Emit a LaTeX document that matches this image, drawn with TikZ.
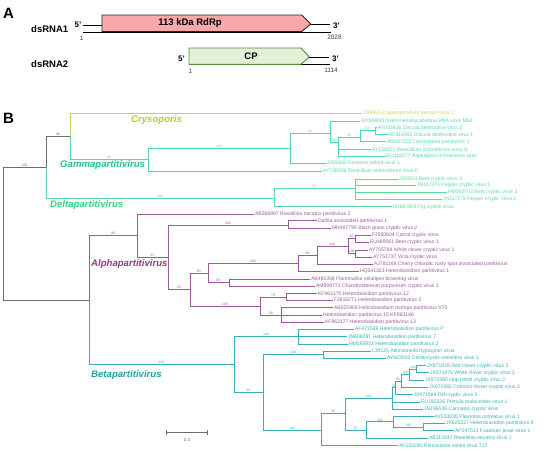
\documentclass[tikz,border=0pt]{standalone}
\usepackage{fontspec}
\setmainfont{Liberation Sans}
\definecolor{gry}{HTML}{6B6B6B}
\definecolor{crys}{HTML}{C3D84A}
\definecolor{crysT}{HTML}{B2CC33}
\definecolor{gam}{HTML}{4ED8AE}
\definecolor{gamT}{HTML}{22C493}
\definecolor{del}{HTML}{58DE9A}
\definecolor{delT}{HTML}{2DD67C}
\definecolor{alp}{HTML}{9A5A9A}
\definecolor{alpT}{HTML}{8A3C8A}
\definecolor{bet}{HTML}{36B0B0}
\definecolor{betT}{HTML}{1F9FA3}
\definecolor{rdrp}{HTML}{F9A8A8}
\definecolor{cpf}{HTML}{E3F1D8}
\definecolor{cpd}{HTML}{5A8A3A}
\tikzset{
  tip/.style={anchor=west, inner sep=0.8pt, font=\fontsize{5.1}{6}\selectfont},
  bs/.style={above, inner sep=0.4pt, font=\fontsize{3.4}{4}\selectfont},
  clade/.style={anchor=west, inner sep=0pt, font=\fontsize{9.6}{11}\selectfont\bfseries\itshape},
  br/.style={line width=0.7pt},
  hd/.style={inner sep=0pt, font=\fontsize{9.5}{11}\selectfont\bfseries},
  pr/.style={inner sep=0pt, font=\fontsize{8}{9}\selectfont\bfseries},
  num/.style={inner sep=0pt, font=\fontsize{6.5}{7}\selectfont, text=black!75},
}
\newcommand{\tnode}[6]{\coordinate (#3) at (#4,#5); \draw[br,#1] (#2) |- node[bs,pos=0.75]{#6} (#3);}
\newcommand{\tleaf}[6]{\node[tip,text=#1] (#3) at (#4,#5) {#6}; \draw[br,#1] (#2) |- (#3.west);}
\begin{document}
\begin{tikzpicture}[x=1pt,y=-1pt]
\useasboundingbox (0,0) rectangle (550,451);
% ---------------- Part A
\node[anchor=base west, inner sep=0pt, font=\fontsize{15}{15}\selectfont\bfseries] (lblA) at (3,18) {A};
\node[hd, anchor=west] (r1) at (31,29.5) {dsRNA1};
\node[hd, anchor=west] (r2) at (31,64) {dsRNA2};
% dsRNA1
\node[pr] (p5a) at (78,25) {5'};
\coordinate (l1a) at (82.5,25);
\coordinate (l1b) at (102,25);
\draw[line width=0.8pt] (l1a) -- (l1b);
\coordinate (lo1a) at (82.5,32);
\coordinate (lo1b) at (331,32);
\draw[line width=0.8pt] (lo1a) -- (lo1b);
\draw[line width=0.9pt, fill=rdrp, draw=black!85] (102,15) -- (301.7,15) -- (310.7,24) -- (301.7,31.5) -- (102,31.5) -- cycle;
\node[hd] (rdrpT) at (190,22.8) {113 kDa RdRp};
\coordinate (t1a) at (310.7,24);
\coordinate (t1b) at (330,24);
\draw[line width=0.8pt] (t1a) -- (t1b);
\node[pr] (p3a) at (336.5,25.3) {3'};
\node[num] (n1a) at (81.5,38.5) {1};
\node[num] (n1b) at (334.5,36.8) {2028};
% dsRNA2
\node[pr] (p5b) at (181.5,59) {5'};
\coordinate (lo2a) at (189,64.5);
\coordinate (lo2b) at (330,64.5);
\draw[line width=0.8pt] (lo2a) -- (lo2b);
\draw[line width=0.9pt, fill=cpf, draw=cpd] (189,48) -- (301,48) -- (309.3,57) -- (301,64.3) -- (189,64.3) -- cycle;
\node[hd] (cpT) at (251,56) {CP};
\coordinate (t2a) at (309.3,57.5);
\coordinate (t2b) at (329,57.5);
\draw[line width=0.8pt] (t2a) -- (t2b);
\node[pr] (p3b) at (335.5,59) {3'};
\node[num] (n2a) at (190.5,71) {1};
\node[num] (n2b) at (331,70) {1114};
% ---------------- Part B
\node[anchor=base west, inner sep=0pt, font=\fontsize{15}{15}\selectfont\bfseries] (lblB) at (3,123) {B};
\coordinate (R) at (3,233.5);
\tnode{gry}{R}{N1}{46}{167}{100}
\tnode{gry}{N1}{N2}{70}{136}{96}
\tleaf{crys}{N2}{tCry}{362}{113}{U95995 Cryptosporidium parvum virus 1}
\tnode{gam}{N2}{G1}{148}{159}{99}
\tnode{gam}{G1}{G2}{290}{148}{100}
\tleaf{gam}{G1}{tAYa}{322}{171}{AY738336 Penicillium stoloniferum virus F}
\tnode{gam}{G2}{G3}{330}{133}{99}
\tleaf{gam}{G2}{tDa}{327}{163}{D55668 Fusarium solani virus 1}
\tleaf{gam}{G3}{tAYb}{360}{121}{AY089993 Gremmeniella abietina RNA virus MS1}
\tnode{gam}{G3}{G4}{338}{142}{92}
\tnode{gam}{G4}{G5}{360}{137}{99}
\tleaf{gam}{G4}{tAYc}{371}{149.3}{AY156521 Penicillium stoloniferum virus S}
\tleaf{gam}{G4}{tEUa}{386}{156}{EU118277 Aspergillus ochraceous virus}
\tnode{gam}{G5}{G6}{375}{130}{100}
\tleaf{gam}{G5}{tAMa}{386}{141.7}{AM087202 Ophiostoma partitivirus 1}
\tleaf{gam}{G6}{tAYd}{377}{127.7}{AY033436 Discula destructiva virus 2}
\tleaf{gam}{G6}{tAFa}{388}{134.3}{AF316992 Discula destructiva virus 1}
% Delta
\tnode{del}{N1}{D1}{274}{198}{100}
\tnode{del}{D1}{D2}{355}{188}{97}
\tleaf{del}{D1}{tFR}{392}{206.7}{FR687854 Fig cryptic virus}
\tleaf{del}{D2}{tS63}{399}{179}{S63913 Beet cryptic virus 3}
\tleaf{del}{D2}{tJNa}{416}{185.3}{JN117276 Pepper cryptic virus 1}
\tleaf{del}{D2}{tHMa}{447}{192}{HM560703 Beet cryptic virus 2}
\tleaf{del}{D2}{tJNb}{442}{199}{JN117278 Pepper cryptic virus 2}
% Alpha
\tnode{gry}{R}{A0}{89}{300}{}
\tnode{alp}{A0}{A1}{137}{235}{98}
\tleaf{alp}{A1}{tABa}{254}{214.3}{AB569997 Rosellinia necatrix partitivirus 2}
\tnode{alp}{A1}{A2}{168}{257}{97}
\tnode{alp}{A2}{A3}{288}{225}{100}
\tleaf{alp}{A3}{tDah}{317}{220.7}{Dahlia associated partitivirus 1}
\tleaf{alp}{A3}{tMN}{331}{228.3}{MN497795 Black grass cryptic virus 2}
\tnode{alp}{A2}{A4}{190}{289.5}{83}
\tnode{alp}{A4}{A5}{208}{273}{85}
\tnode{alp}{A5}{A7}{298}{263.3}{100}
\tnode{alp}{A7}{A9}{317}{255}{98}
\tleaf{alp}{A7}{tHQ}{359}{271.3}{HQ541323 Heterobasidion partitivirus 1}
\tnode{alp}{A9}{A10}{348}{246}{100}
\tleaf{alp}{A9}{tAJ}{373}{264.3}{AJ781168 Cherry chlorotic rusty spot associated partitivirus}
\tnode{alp}{A10}{A11}{355}{238.7}{90}
\tnode{alp}{A10}{A12}{355}{253.7}{100}
\tleaf{alp}{A11}{tFJa}{371}{235}{FJ550604 Carrot cryptic virus}
\tleaf{alp}{A11}{tEUb}{369}{242.3}{EU489061 Beet cryptic virus 1}
\tleaf{alp}{A12}{tAYe}{368}{250}{AY705784 White clover cryptic virus 1}
\tleaf{alp}{A12}{tAYf}{372}{257.3}{AY751737 Vicia cryptic virus}
\tnode{alp}{A5}{A8}{229}{282.7}{80}
\tleaf{alp}{A8}{tABb}{310}{279.3}{AB465308 Flammulina velutipes browning virus}
\tleaf{alp}{A8}{tAMb}{315}{286.3}{AM999771 Chondrostereum purpureum cryptic virus 1}
\tnode{alp}{A4}{A6}{260}{306.7}{100}
\tnode{alp}{A6}{A13}{286}{297}{73}
\tleaf{alp}{A13}{tKFa}{317}{293.7}{KF963175 Heterobasidion partitivirus 12}
\tleaf{alp}{A13}{tFJb}{333}{300.3}{FJ816271 Heterobasidion partitivirus 3}
\tnode{alp}{A6}{A14}{281.7}{315}{99}
\tleaf{alp}{A14}{tABc}{333}{307.7}{AB025903 Helicobasidium mompa partitivirus V70}
\tleaf{alp}{A14}{tHet}{322}{315}{Heterobasidion partitivirus 15 KF963186}
\tleaf{alp}{A14}{tKFb}{324}{322.3}{KF963177 Heterobasidion partitivirus 13}
% Beta
\tnode{bet}{A0}{B1}{234}{364.3}{100}
\tnode{bet}{B1}{B2}{298}{336.7}{100}
\tleaf{bet}{B2}{tAFb}{354}{329.3}{AF473549 Heterobasidion partitivirus P}
\tleaf{bet}{B2}{tJNc}{347}{336.7}{JN606091 Heterobasidion partitivirus 7}
\tleaf{bet}{B2}{tHMb}{348}{344}{HM565953 Heterobasidion partitivirus 2}
\tnode{bet}{B1}{B3}{263}{392.3}{95}
\tnode{bet}{B3}{B4}{323}{354.7}{100}
\tleaf{bet}{B4}{tL39}{371}{351}{L39125 Atkinsonella hypoxylon virus}
\tleaf{bet}{B4}{tAYg}{386}{358.3}{AY603052 Ceratocystis resinifera virus 1}
\tnode{bet}{B3}{B5}{321.7}{430}{100}
\tnode{bet}{B5}{B6}{345}{413.3}{99}
\tleaf{bet}{B5}{tAFc}{398}{445.7}{AF133290 Rhizoctonia solani virus 717}
\tnode{bet}{B6}{B7}{392.3}{398.4}{100}
\tnode{bet}{B7}{B10}{395}{387.8}{59}
\tnode{bet}{B10}{B11}{401}{381}{95}
\tnode{bet}{B11}{B12}{409.3}{374.6}{100}
\tnode{bet}{B12}{B13}{416.7}{369.2}{100}
\tleaf{bet}{B13}{tJXa}{426}{365.7}{JX971978 Red clover cryptic virus 2}
\tleaf{bet}{B13}{tJXb}{429}{372.7}{JX971976 White clover cryptic virus 2}
\tleaf{bet}{B12}{tJXc}{424}{380}{JX971980 Hop trefoil cryptic virus 2}
\tleaf{bet}{B11}{tJXd}{428}{387.3}{JX971982 Crimson clover cryptic virus 2}
\tleaf{bet}{B10}{tJXe}{412.5}{394.7}{JX971984 Dill cryptic virus 2}
\tleaf{bet}{B7}{tEUc}{420}{402}{EU195326 Primula malacoides virus 1}
\tleaf{bet}{B7}{tJNd}{423}{409}{JN196536 Cannabis cryptic virus}
\tnode{bet}{B6}{B8}{366.7}{429.9}{97}
\tnode{bet}{B8}{B14}{393.3}{421.8}{100}
\tleaf{bet}{B14}{tAYh}{433.5}{416.7}{AY533038 Pleurotus ostreatus virus 1}
\tnode{bet}{B14}{B15}{423.3}{427}{100}
\tleaf{bet}{B15}{tJXf}{445}{423.3}{JX625227 Heterobasidion partitivirus 8}
\tleaf{bet}{B15}{tAFd}{454}{430.7}{AF047013 Fusarium poae virus 1}
\tleaf{bet}{B8}{tABd}{428}{438}{AB113347 Rosellinia necatrix virus 1}
% clade labels
\node[clade, text=crysT] (cCry) at (131,120) {Crysoporis};
\node[clade, text=gamT] (cGam) at (60,165) {Gammapartitivirus};
\node[clade, text=delT] (cDel) at (50,205.5) {Deltapartitivirus};
\node[clade, text=alpT] (cAlp) at (91,264) {Alphapartitivirus};
\node[clade, text=betT] (cBet) at (91,375) {Betapartitivirus};
% scale bar
\coordinate (sb1) at (166.7,432.7);
\coordinate (sb2) at (207.7,432.7);
\draw[gry, line width=0.7pt] (sb1) -- (sb2);
\draw[gry, line width=0.7pt] ([yshift=-2.5pt]sb1) -- ([yshift=2.5pt]sb1);
\draw[gry, line width=0.7pt] ([yshift=-2.5pt]sb2) -- ([yshift=2.5pt]sb2);
\node[inner sep=0pt, font=\fontsize{4.5}{5}\selectfont, text=gry] (sbl) at (187,440) {0.3};
\end{tikzpicture}
\end{document}
